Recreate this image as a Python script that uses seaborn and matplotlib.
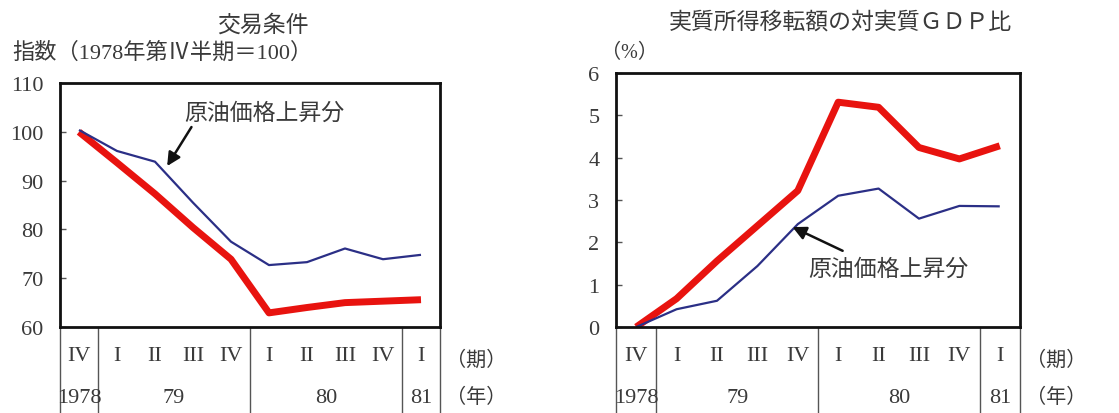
import matplotlib
matplotlib.use("Agg")
import matplotlib.pyplot as plt
import seaborn as sns
import pandas as pd

sns.set_theme(style="white")
plt.rcParams["font.family"] = ["Liberation Serif", "Noto Sans CJK JP", "DejaVu Sans"]

# Quarterly positions: 1978 Q4 through 1981 Q1
quarters = ["IV", "I", "II", "III", "IV", "I", "II", "III", "IV", "I"]
years = ["1978", "79", "80", "81"]
year_centers = [0, 2.5, 6.5, 9]
year_breaks = [-0.5, 0.5, 4.5, 8.5, 9.5]

# Terms of trade index (1978 Q4 = 100)
tot_total = [100.0, 93.7, 87.3, 80.4, 73.9, 62.9, 64.0, 65.0, 65.3, 65.6]
tot_oil = [100.4, 96.1, 93.9, 85.5, 77.5, 72.7, 73.3, 76.1, 73.9, 74.8]

# Real income transfer as % of real GDP
trans_total = [0.0, 0.67, 1.56, 2.39, 3.22, 5.31, 5.19, 4.24, 3.97, 4.28]
trans_oil = [0.0, 0.42, 0.62, 1.44, 2.43, 3.10, 3.27, 2.56, 2.86, 2.85]

series_names = ["total", "oil"]
palette = {"total": "#e8130f", "oil": "#2b2f86"}
sizes = {"total": 5.0, "oil": 1.6}

def long_frame(total, oil):
    idx = list(range(len(quarters)))
    return pd.DataFrame({
        "q": idx * 2,
        "v": list(total) + list(oil),
        "s": ["total"] * len(idx) + ["oil"] * len(idx),
    })

TXT = "#3a3a3a"
NUM_FS = 16
CJK_FS = 16.5

fig = plt.figure(figsize=(11.19, 4.14), dpi=100)
ax1 = fig.add_axes([0.0536, 0.2077, 0.3396, 0.589])
ax2 = fig.add_axes([0.5505, 0.2077, 0.3610, 0.6136])


def style_axis(ax, df, ylim, yticks):
    sns.lineplot(data=df, x="q", y="v", hue="s", size="s", palette=palette,
                 sizes=sizes, size_order=series_names, hue_order=series_names,
                 legend=False, ax=ax, estimator=None, sort=False)
    for ln in ax.lines:
        ln.set_solid_capstyle("butt")
        ln.set_solid_joinstyle("round")
    ax.set_xlim(-0.5, 9.5)
    ax.set_ylim(*ylim)
    ax.set_yticks(yticks)
    ax.set_yticklabels([str(t) for t in yticks], fontsize=NUM_FS, color=TXT)
    ax.set_xticks(range(len(quarters)))
    ax.set_xticklabels(quarters, fontsize=NUM_FS, color=TXT)
    ax.tick_params(axis="x", length=0, pad=14)
    ax.tick_params(axis="y", direction="in", length=4, width=1, color="#555555",
                   pad=12, left=True)
    ax.set_xlabel("")
    ax.set_ylabel("")
    for sp in ax.spines.values():
        sp.set_color("#111111")
        sp.set_linewidth(2.0)
    tr = ax.get_xaxis_transform()
    for xb in year_breaks:
        ax.plot([xb, xb], [0, -0.36], transform=tr, color="#555555", lw=1.0,
                clip_on=False)
    for yl, xc in zip(years, year_centers):
        ax.annotate(yl, xy=(xc, 0), xycoords=tr, xytext=(0, -51),
                    textcoords="offset points", ha="center", va="center",
                    fontsize=NUM_FS, color=TXT)
    ax.annotate("（期）", xy=(1.0, 0), xycoords="axes fraction", xytext=(26, -24),
                textcoords="offset points", ha="center", va="center",
                fontsize=CJK_FS - 2, color=TXT)
    ax.annotate("（年）", xy=(1.0, 0), xycoords="axes fraction", xytext=(26, -51),
                textcoords="offset points", ha="center", va="center",
                fontsize=CJK_FS - 2, color=TXT)


style_axis(ax1, long_frame(tot_total, tot_oil), (60, 110), [60, 70, 80, 90, 100, 110])
style_axis(ax2, long_frame(trans_total, trans_oil), (0, 6), [0, 1, 2, 3, 4, 5, 6])

arrow = dict(arrowstyle="-|>", color="#111111", lw=1.8, mutation_scale=20,
             shrinkA=0, shrinkB=0)
ax1.annotate("", xy=(2.32, 93.0), xytext=(2.96, 101.0), arrowprops=arrow)
ax1.text(4.88, 103.9, "原油価格上昇分", ha="center", va="center",
         fontsize=CJK_FS, color=TXT)
ax2.annotate("", xy=(3.87, 2.36), xytext=(5.11, 1.80), arrowprops=arrow)
ax2.text(6.23, 1.37, "原油価格上昇分", ha="center", va="center",
         fontsize=CJK_FS, color=TXT)

fig.text(0.235, 0.938, "交易条件", ha="center", va="center",
         fontsize=CJK_FS, color=TXT)
fig.text(0.0107, 0.872, "指数（1978年第Ⅳ半期＝100）", ha="left", va="center",
         fontsize=CJK_FS - 0.5, color=TXT)
fig.text(0.7507, 0.945, "実質所得移転額の対実質ＧＤＰ比", ha="center", va="center",
         fontsize=CJK_FS, color=TXT)
fig.text(0.537, 0.870, "（%）", ha="left", va="center",
         fontsize=CJK_FS - 2, color=TXT)

fig.savefig("out.png", dpi=100, facecolor="white")
